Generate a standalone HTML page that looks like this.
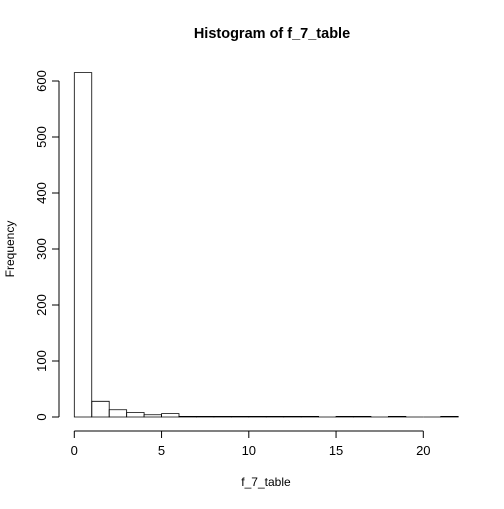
<!DOCTYPE html>
<html><head><meta charset="utf-8"><style>
body{margin:0;background:#fff}
svg text{font-family:"Liberation Sans",Arial,sans-serif;fill:#000}
</style></head><body>
<svg id="chart" width="504" height="504" xmlns="http://www.w3.org/2000/svg">
<text x="272" y="38" font-size="14.5" font-weight="bold" text-anchor="middle">Histogram of f_7_table</text>
<text x="266" y="486" font-size="12" text-anchor="middle">f_7_table</text>
<text transform="translate(14,249) rotate(-90)" font-size="12" text-anchor="middle">Frequency</text>
<g id="bars"></g><g id="xaxis"></g><g id="yaxis"></g>
</svg>
<script>
const binStarts=[0,1,2,3,4,5,6,7,8,9,10,11,12,13,14,15,16,17,18,19,20,21];
const counts=[615,28,13,8,4,6,1,1,1,1,1,1,1,1,0,1,1,0,1,0,0,1];
const xTicks=[0,5,10,15,20];
const yTicks=[0,100,200,300,400,500,600];
const NS="http://www.w3.org/2000/svg";
const xs=v=>74.3+v*17.45;
const ys=v=>417-v*0.56;
const bars=document.getElementById('bars');
binStarts.forEach((b,i)=>{
  const p=document.createElementNS(NS,'path');
  const x0=xs(b),x1=xs(b+1),y0=ys(0),y1=ys(counts[i]);
  p.setAttribute('d',`M${x0},${y0}L${x0},${y1}L${x1},${y1}L${x1},${y0}Z`);
  p.setAttribute('fill','none');p.setAttribute('stroke','#000');p.setAttribute('stroke-width','0.8');
  
  
  bars.appendChild(p);
});
const xa=document.getElementById('xaxis');
let h=`<line x1="${xs(0)}" x2="${xs(20)}" y1="431" y2="431" stroke="#000"/>`;
xTicks.forEach(t=>{h+=`<line x1="${xs(t)}" x2="${xs(t)}" y1="431" y2="438" stroke="#000"/><text x="${xs(t)}" y="455" font-size="13" text-anchor="middle">${t}</text>`;});
xa.innerHTML=h;


const ya=document.getElementById('yaxis');
h=`<line x1="59" x2="59" y1="${ys(0)}" y2="${ys(600)}" stroke="#000"/>`;
yTicks.forEach(t=>{h+=`<line x1="52" x2="59" y1="${ys(t)}" y2="${ys(t)}" stroke="#000"/><text transform="translate(46,${ys(t)}) rotate(-90)" font-size="13" text-anchor="middle">${t}</text>`;});
ya.innerHTML=h;


</script>
</body></html>
